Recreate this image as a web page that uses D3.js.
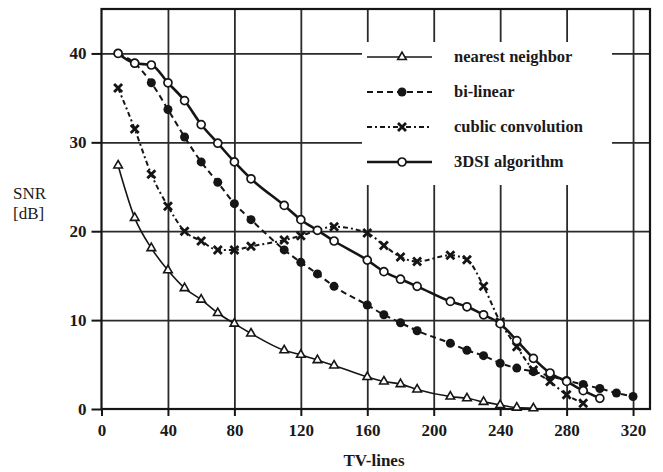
<!DOCTYPE html>
<html>
  <head>
    <meta charset="UTF-8">
    <script src="https://cdn.jsdelivr.net/npm/d3@7"></script>
    <style>
      body { margin: 0; background: #fff; }
      text { font-family: "Liberation Serif", serif; fill: #1a1a1a; }
    </style>
  </head>
  <body>
    <svg id="chart" width="663" height="472"></svg>
    <script type="text/javascript">
      // TV-lines where points were measured (100, 150, 200 were skipped)
      var tvLines = [10, 20, 30, 40, 50, 60, 70, 80, 90, 110, 120, 130, 140, 160, 170, 180, 190,
                     210, 220, 230, 240, 250, 260, 270, 280, 290, 300, 310, 320];

      var nearest  = [27.4, 21.5, 18.1, 15.6, 13.6, 12.3, 10.8, 9.6, 8.5, 6.6, 6.1, 5.5, 4.9, 3.6, 3.1, 2.8, 2.2,
                      1.4, 1.2, 0.8, 0.45, 0.15, 0.08, null, null, null, null, null, null];
      var bilinear = [40, 38.9, 36.7, 33.7, 30.6, 27.8, 25.5, 23.1, 21.3, 17.9, 16.5, 15.2, 13.8, 11.7, 10.6, 9.7, 8.8,
                      7.4, 6.6, 6.0, 5.15, 4.6, 4.2, 3.7, 3.2, 2.75, 2.3, 1.8, 1.4];
      var cubic    = [36.1, 31.5, 26.4, 22.8, 20.0, 18.9, 17.9, 17.9, 18.3, 19.0, 19.5, null, 20.5, 19.8, 18.4, 17.1, 16.6,
                      17.3, 16.8, 13.8, 9.8, 7.0, 4.4, 3.1, 1.6, 0.65, null, null, null];
      var dsi      = [40, 38.9, 38.7, 36.7, 34.7, 32.0, 29.9, 27.8, 25.9, 22.9, 21.3, 20.1, 18.9, 16.75, 15.45, 14.6, 13.8,
                      12.1, 11.5, 10.6, 9.6, 7.7, 5.7, 4.05, 3.1, 2.06, 1.2, null, null];

      var xTicks = [0, 40, 80, 120, 160, 200, 240, 280, 320];
      var yTicks = [0, 10, 20, 30, 40];
      var seriesNames = ["nearest neighbor", "bi-linear", "cublic convolution", "3DSI algorithm"];

      var margin = { left: 101.5, top: 9 };
      var width = 548.5, height = 400;
      var ink = '#151515';

      var x = d3.scaleLinear().domain([0, 330.2]).range([0, width]);
      var y = d3.scaleLinear().domain([0, 45]).range([height, 0]);

      var svg = d3.select('#chart');
      var g = svg.append('g').attr('transform', 'translate(' + margin.left + ',' + margin.top + ')');

      // grid
      g.append('g').attr('class', 'grid')
        .call(d3.axisLeft(y).tickValues(yTicks.slice(1)).tickSize(-width).tickFormat(''))
        .call(function(s) { s.select('.domain').remove(); });
      g.append('g').attr('class', 'grid')
        .attr('transform', 'translate(0,' + height + ')')
        .call(d3.axisBottom(x).tickValues(xTicks.slice(1)).tickSize(height).tickFormat(''))
        .call(function(s) {
          s.select('.domain').remove();
          s.selectAll('line').attr('y2', -height);
        });
      g.selectAll('.grid line').attr('stroke', '#2a2a2a').attr('stroke-width', 1.8);

      // legend box hides grid behind it
      var lg = g.append('g').attr('transform', 'translate(' + (362 - margin.left) + ',' + (42 - margin.top) + ')');
      lg.append('rect').attr('width', 250).attr('height', 143).attr('fill', '#fff');

      // axes
      var yAxis = g.append('g').call(d3.axisLeft(y).tickValues(yTicks).tickSize(10).tickPadding(5));
      var xAxis = g.append('g').attr('transform', 'translate(0,' + height + ')')
        .call(d3.axisBottom(x).tickValues(xTicks).tickSize(7).tickPadding(8));
      [yAxis, xAxis].forEach(function(a) {
        a.select('.domain').remove();
        a.selectAll('line').attr('stroke', ink).attr('stroke-width', 2);
        a.selectAll('text').style('font-family', '"Liberation Serif", serif')
          .style('font-size', '17px').style('font-weight', 'bold').attr('fill', ink);
      });

      g.append('rect').attr('width', width).attr('height', height)
        .attr('fill', 'none').attr('stroke', ink).attr('stroke-width', 2.2);

      // axis titles
      svg.append('text').attr('x', 374).attr('y', 466).attr('text-anchor', 'middle')
        .style('font-size', '17px').style('font-weight', 'bold').text('TV-lines');
      svg.append('text').attr('x', 13).attr('y', 199).style('font-size', '17px').text('SNR');
      svg.append('text').attr('x', 13).attr('y', 219).style('font-size', '17px').text('[dB]');

      // series
      function pts(vals) {
        return tvLines.map(function(t, i) { return [t, vals[i]]; })
          .filter(function(d) { return d[1] !== null; });
      }
      var series = [
        { name: seriesNames[0], data: pts(nearest),  dash: null,      w: 1.6, marker: 'tri' },
        { name: seriesNames[1], data: pts(bilinear), dash: '6,4',     w: 2,   marker: 'dot' },
        { name: seriesNames[2], data: pts(cubic),    dash: '5,3,2,3', w: 2,   marker: 'x' },
        { name: seriesNames[3], data: pts(dsi),      dash: null,      w: 2.6, marker: 'circ' }
      ];

      var line = d3.line()
        .x(function(d) { return x(d[0]); })
        .y(function(d) { return y(d[1]); })
        .curve(d3.curveMonotoneX);

      function drawMarker(sel, type) {
        if (type === 'tri') {
          sel.append('path').attr('d', d3.symbol(d3.symbolTriangle, 32)())
            .attr('fill', '#fff').attr('stroke', ink).attr('stroke-width', 1.6);
        } else if (type === 'dot') {
          sel.append('circle').attr('r', 4.5).attr('fill', ink);
        } else if (type === 'x') {
          sel.append('path').attr('d', 'M-4,-4L4,4M-4,4L4,-4')
            .attr('stroke', ink).attr('stroke-width', 2.8).attr('fill', 'none');
        } else {
          sel.append('circle').attr('r', 4).attr('fill', '#fff')
            .attr('stroke', ink).attr('stroke-width', 1.7);
        }
      }

      series.forEach(function(s) {
        g.append('path').datum(s.data)
          .attr('d', line).attr('fill', 'none')
          .attr('stroke', ink).attr('stroke-width', s.w)
          .attr('stroke-dasharray', s.dash);
        g.append('g').selectAll('g').data(s.data).enter().append('g')
          .attr('transform', function(d) { return 'translate(' + x(d[0]) + ',' + y(d[1]) + ')'; })
          .each(function() { drawMarker(d3.select(this), s.marker); });
      });

      // legend
      series.forEach(function(s, i) {
        var row = lg.append('g').attr('transform', 'translate(0,' + (15 + i * 35) + ')');
        row.append('line').attr('x1', 5).attr('x2', 70)
          .attr('stroke', ink).attr('stroke-width', s.w).attr('stroke-dasharray', s.dash);
        var m = row.append('g').attr('transform', 'translate(40,0)');
        drawMarker(m, s.marker);
        row.append('text').attr('x', 92).attr('y', 5)
          .style('font-size', '16.5px').style('font-weight', 'bold').text(s.name);
      });
    </script>
  </body>
</html>
